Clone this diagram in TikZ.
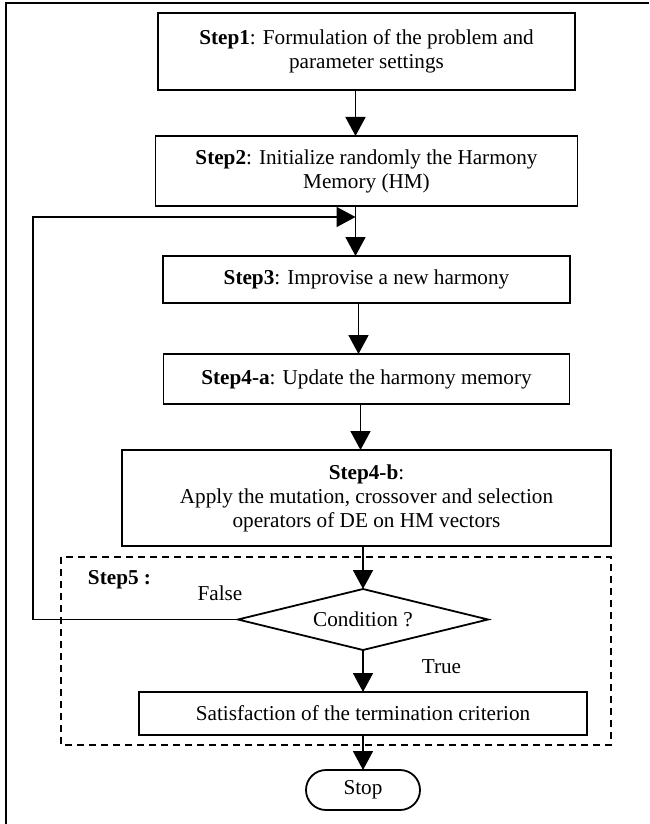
\documentclass[tikz,border=0pt]{standalone}
\usepackage{fontspec}
\setmainfont{Liberation Serif}
\usetikzlibrary{positioning}
\usetikzlibrary{arrows.meta,shapes.geometric}

\begin{document}
\begin{tikzpicture}[>={Triangle[width=10pt,length=9.5pt]},line width=0.9pt,
                font=\fontsize{10.6}{12}\selectfont,outer sep=0pt,
                step node/.style={rectangle,draw,align=center,inner sep=2pt},
                test node/.style={diamond,draw,aspect=4,inner sep=0pt,minimum width=125pt,minimum height=30.5pt},
                end node/.style={rectangle,draw,rounded corners=10pt,minimum width=57pt,minimum height=20pt}]

  \useasboundingbox (0,0) rectangle (324.5pt,-412pt);
  \draw (3pt,-412pt) -- (3pt,-1.5pt) -- (324.5pt,-1.5pt);

  \node[step node,minimum width=208.5pt,minimum height=38.5pt] (s1) at (183.25pt,-25.75pt)
    {\textbf{Step1}: Formulation of the problem and\\parameter settings};
  \node[step node,minimum width=211pt,minimum height=35pt] (s2) [below=23pt of s1]
    {\textbf{Step2}: Initialize randomly the Harmony\\Memory (HM)};
  \node[step node,minimum width=203.5pt,minimum height=23.5pt] (s3) [below=25pt of s2]
    {\textbf{Step3}: Improvise a new harmony};
  \node[step node,minimum width=203pt,minimum height=25pt] (s4a) [below=25.5pt of s3]
    {\textbf{Step4-a}: Update the harmony memory};
  \node[step node,minimum width=244.5pt,minimum height=48pt] (s4b) [below=23pt of s4a]
    {\textbf{Step4-b}:\\Apply the mutation, crossover and selection\\operators of DE on HM vectors};
  \node[test node] (cond) [below=21.5pt of s4b,xshift=-1.75pt] {Condition ?};
  \node[step node,minimum width=224pt,minimum height=21.5pt] (sat) [below=21pt of cond]
    {Satisfaction of the termination criterion};
  \node[end node] (stop) [below=17.5pt of sat] {Stop};

  \coordinate (join) at ([xshift=-5.5pt,yshift=-5.5pt]s2.south);

  \draw[dashed,dash pattern=on 3.5pt off 2.5pt] (30.5pt,-278.5pt) rectangle (305.5pt,-372.5pt);
  \node[font=\fontsize{10.6}{12}\selectfont\bfseries] (lab5) at (59.75pt,-290pt) {Step5 :};
  \node (lfalse) at (110pt,-296.5pt) {False};
  \node (ltrue) at (220.75pt,-333.5pt) {True};

  \path[->]
    ([xshift=-5.5pt]s1.south) edge ([xshift=-5.5pt]s2.north)
    ([xshift=-5.5pt]s2.south) edge ([xshift=-5.5pt]s3.north)
    ([xshift=-4pt]s3.south) edge ([xshift=-4pt]s4a.north)
    ([xshift=-3pt]s4a.south) edge ([xshift=-3pt]s4b.north)
    ([xshift=-1.75pt]s4b.south) edge (cond)
    (cond) edge (sat)
    (sat) edge (stop);
  \draw[->] (cond.west) -- ++(-102.5pt,0) |- (join);

\end{tikzpicture}
\end{document}
